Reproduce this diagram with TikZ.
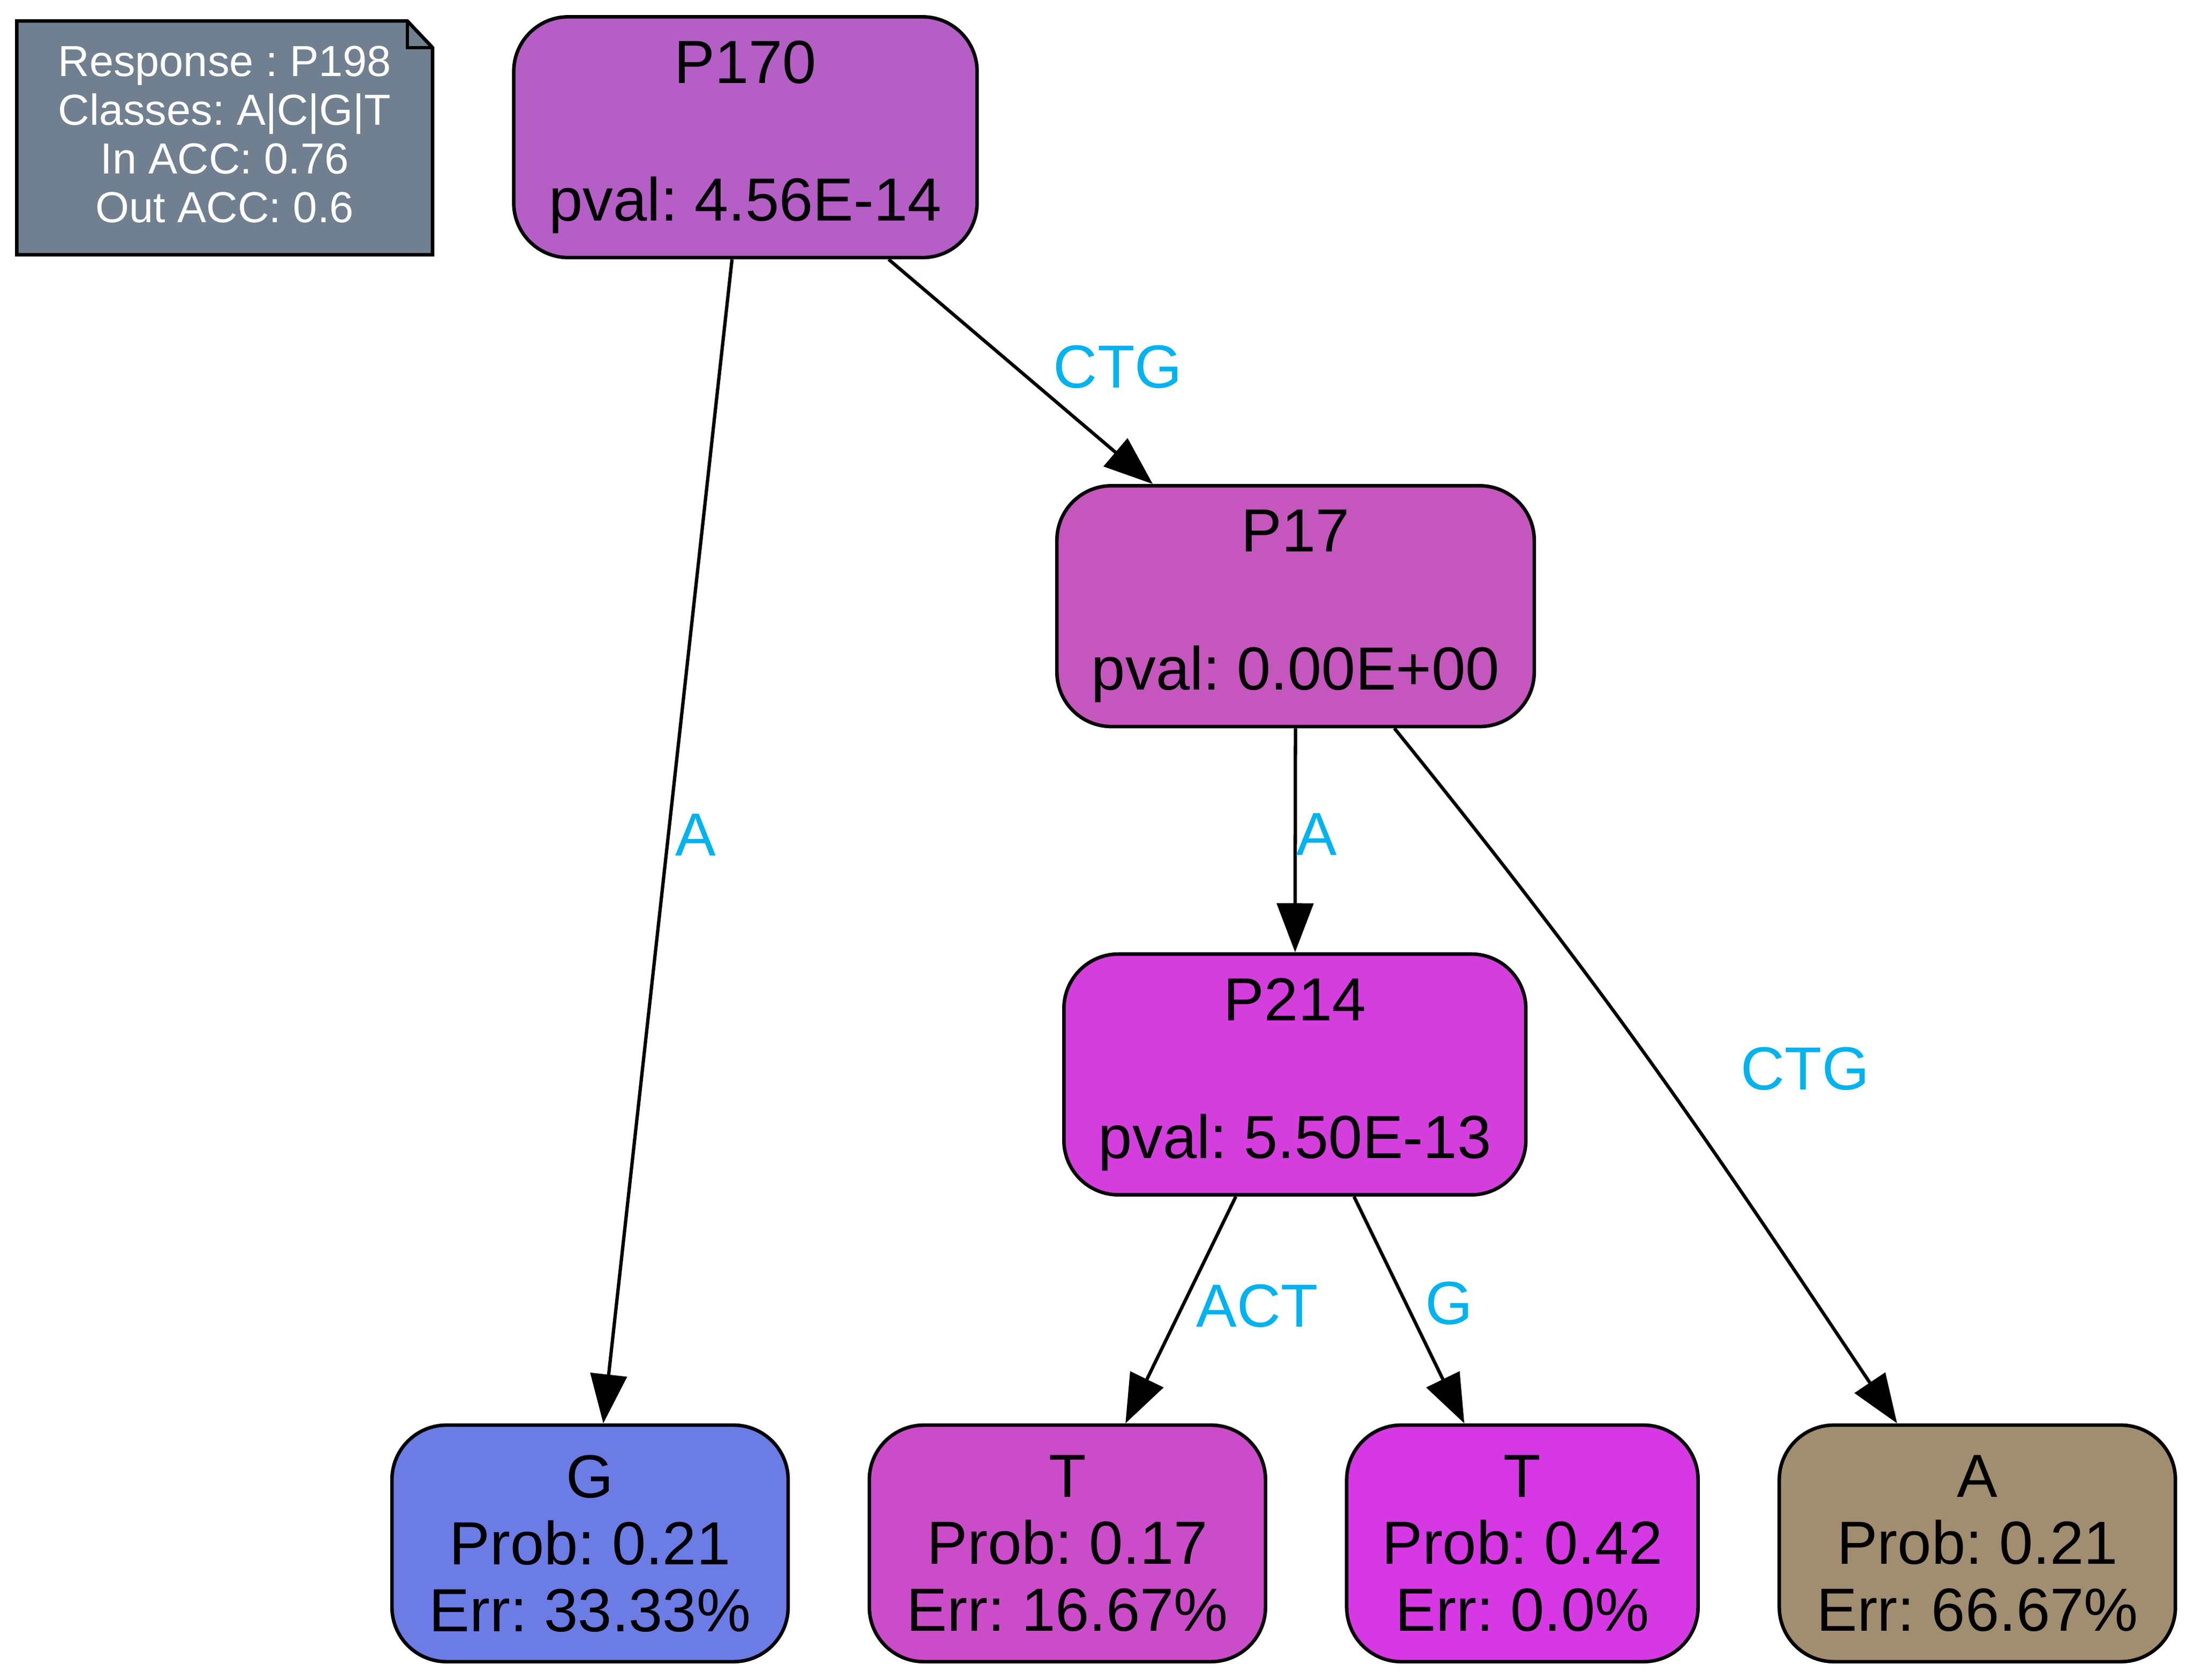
\documentclass[tikz,border=0pt]{standalone}
\usepackage{fontspec}
\setmainfont{Liberation Sans}
\frenchspacing
\usetikzlibrary{arrows.meta,calc}
\definecolor{cnote}{RGB}{112,128,144}
\definecolor{c170}{RGB}{180,94,198}
\definecolor{c17}{RGB}{197,86,189}
\definecolor{c214}{RGB}{212,62,221}
\definecolor{cg}{RGB}{108,124,229}
\definecolor{ct1}{RGB}{203,76,200}
\definecolor{ct2}{RGB}{214,56,228}
\definecolor{ca}{RGB}{161,142,112}
\definecolor{lblue}{RGB}{0,178,238}
\begin{document}
\begin{tikzpicture}[x=1pt,y=-1pt,
  box/.style={draw=black,line width=2.5pt,rounded corners=39pt,inner sep=0pt,align=center},
  innerbox/.style={box,minimum height=172pt,font=\fontsize{43.5}{49.2}\selectfont\frenchspacing},
  leafbox/.style={box,minimum height=169pt,minimum width=283pt,font=\fontsize{43.5}{47.8}\selectfont\frenchspacing},
  edge/.style={line width=2.4pt,-{Triangle[length=35pt,width=26pt]}},
  elabel/.style={text=lblue,inner sep=0pt,font=\fontsize{43.5}{50}\selectfont},
  notetext/.style={text=white,inner sep=0pt,align=center,font=\fontsize{31}{34.8}\selectfont\frenchspacing}]
\useasboundingbox (0,0) rectangle (1568,1200);
% note
\draw[line width=2.5pt,fill=cnote] (12,15) -- (291,15) -- (309,34) -- (309,182) -- (12,182) -- cycle;
\draw[line width=2.5pt] (291,15) -- (291,34) -- (309,34);
\node[notetext] (note) at (160.5,96) {Response : P198\\Classes: A|C|G|T\\In ACC: 0.76\\Out ACC: 0.6};
% inner nodes
\node[innerbox,fill=c170,minimum width=331pt] (p170) at (532.5,98) {P170\\\mbox{}\\pval: 4.56E-14};
\node[innerbox,fill=c17,minimum width=341pt] (p17) at (925.5,433) {P17\\\mbox{}\\pval: 0.00E+00};
\node[innerbox,fill=c214,minimum width=330pt] (p214) at (925,767.5) {P214\\\mbox{}\\pval: 5.50E-13};
% leaves
\node[leafbox,fill=cg] (g) at (421.5,1102.5) {G\\Prob: 0.21\\Err: 33.33\%};
\node[leafbox,fill=ct1] (t1) at (762.5,1102.5) {T\\Prob: 0.17\\Err: 16.67\%};
\node[leafbox,fill=ct2,minimum width=251pt] (t2) at (1087.5,1102.5) {T\\Prob: 0.42\\Err: 0.0\%};
\node[leafbox,fill=ca] (a) at (1412.5,1102.5) {A\\Prob: 0.21\\Err: 66.67\%};
% edges
\draw[edge] (p170) -- (g);
\draw[edge] (p170) -- (p17);
\draw[edge] (p17) -- (p214);
\draw[edge] (p17) .. controls (1157,719) and (1222,818) .. (a);
\draw[edge] (p214) -- (t1);
\draw[edge] (p214) -- (t2);
% edge labels
\node[elabel] (la1) at (497,596.5) {A};
\node[elabel] (lctg1) at (798.5,262) {CTG};
\node[elabel] (la2) at (940.5,596) {A};
\node[elabel] (lctg2) at (1289.5,763.5) {CTG};
\node[elabel] (lact) at (898,933) {ACT};
\node[elabel] (lg) at (1035,931) {G};
\end{tikzpicture}
\end{document}
